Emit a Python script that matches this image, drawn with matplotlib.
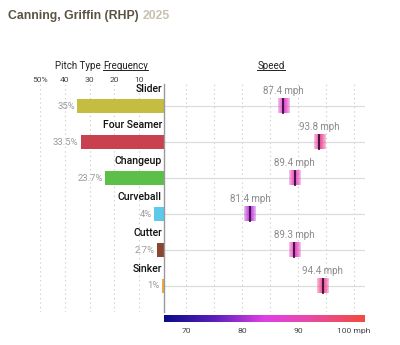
import numpy as np
import matplotlib
matplotlib.use("Agg")
import matplotlib.pyplot as plt
from matplotlib.colors import LinearSegmentedColormap, Normalize, to_rgb

W, H = 400, 345

pitches = ["Slider", "Four Seamer", "Changeup", "Curveball", "Cutter", "Sinker"]
freq = [35, 33.5, 23.7, 4, 2.7, 1]
freq_labels = ["35%", "33.5%", "23.7%", "4%", "2.7%", "1%"]
speed = [87.4, 93.8, 89.4, 81.4, 89.3, 94.4]
colors = ["#c5bd3f", "#c9404f", "#5cbf4a", "#5ccbea", "#8b4533", "#f0a840"]

freq_ticks = [50, 40, 30, 20, 10]
freq_ticklabels = ["50%", "40", "30", "20", "10"]
speed_ticks = [70, 80, 90, 100]
speed_ticklabels = ["70", "80", "90", "100 mph"]

cmap = LinearSegmentedColormap.from_list("spd", [
    (0, "#0c0c8a"), (0.25, "#5a1fba"), (0.5, "#e03fe6"),
    (0.72, "#e84aa8"), (1, "#f24a40")])
vmin, vmax = 66, 102
norm = Normalize(vmin, vmax)


def fx(px):
    return px / W


def fy(py):
    return 1 - py / H


def ax_rect(x0, y0, x1, y1):
    return [fx(x0), fy(y1), (x1 - x0) / W, (y1 - y0) / H]


fig = plt.figure(figsize=(4, 3.45), dpi=100)
fig.patch.set_facecolor("white")

top, bot = 84, 312
row0, step = 106, 36
ylim = ((bot - row0) / step, (top - row0) / step)
n = len(pitches)
rows = np.arange(n)

# left: frequency bars
axl = fig.add_axes(ax_rect(35, top, 164, bot))
axl.set_xlim(52, 0)
axl.set_ylim(*ylim)
for s in axl.spines.values():
    s.set_visible(False)
axl.set_xticks([])
axl.set_yticks([])
for t in freq_ticks:
    axl.axvline(t, color="#c8c8c8", lw=0.8, ls=(0, (1, 3)), zorder=0)
axl.barh(rows, freq, height=0.39, color=colors, zorder=2)
for i in rows:
    axl.text(0.9, i - 0.33, pitches[i], ha="right", va="bottom",
             fontsize=7.6, fontweight="medium", family="Roboto", color="#111111")
    axl.text(freq[i] + 1.0, i, freq_labels[i], ha="right", va="center",
             fontsize=6.8, family="Roboto", color="#9a9a9a")
for t, lab in zip(freq_ticks, freq_ticklabels):
    fig.text(fx(164 - t * 2.48), fy(80), lab, ha="center", va="center",
             fontsize=6.1, family="Roboto", color="#444444")

# right: speed markers
axr = fig.add_axes(ax_rect(164, top, 365, bot))
axr.set_facecolor("none")
for k, s in axr.spines.items():
    s.set_visible(k == "left")
axr.spines["left"].set_color("#999999")
axr.spines["left"].set_linewidth(1)
axr.set_xticks([])
axr.set_yticks([])
for t in range(70, 101, 5):
    axr.axvline(t, color="#c8c8c8", lw=0.8, ls=(0, (1, 3)), zorder=0)
for i in rows:
    axr.axhline(i, color="#dddddd", lw=0.9, zorder=1)

prof = np.linspace(-1, 1, 40)
alpha = 0.3 + 0.7 * (1 - np.abs(prof)) ** 0.8
for i in rows:
    r, g, b = to_rgb(cmap(norm(speed[i])))
    img = np.zeros((1, len(prof), 4))
    img[..., 0], img[..., 1], img[..., 2] = r, g, b
    img[..., 3] = alpha
    axr.imshow(img, extent=[speed[i] - 1.0, speed[i] + 1.0, i + 0.2, i - 0.2],
               aspect="auto", interpolation="bilinear", zorder=3)
    axr.plot([speed[i], speed[i]], [i - 0.2, i + 0.2], color="#3a0c3c", lw=1.3, zorder=4)
    axr.text(speed[i], i - 0.29, f"{speed[i]} mph", ha="center", va="bottom",
             fontsize=7, family="Roboto", color="#8a8a8a")
axr.set_xlim(vmin, vmax)
axr.set_ylim(*ylim)

# colour bar
axc = fig.add_axes(ax_rect(164, 315, 365, 322))
grad = np.linspace(vmin, vmax, 300).reshape(1, -1)
axc.imshow(grad, extent=[vmin, vmax, 0, 1], aspect="auto", cmap=cmap, norm=norm)
axc.set_xlim(vmin, vmax)
for s in axc.spines.values():
    s.set_visible(False)
axc.set_yticks([])
axc.set_xticks(speed_ticks)
axc.set_xticklabels(speed_ticklabels, fontsize=6.1, family="Roboto", color="#444444")
axc.tick_params(axis="x", length=0, pad=4)

# headers
t1 = fig.text(fx(103), fy(66), "Pitch Type ", ha="right", va="center",
              fontsize=7, family="Roboto", color="#222222")
t2 = fig.text(fx(103), fy(66), "Frequency", ha="left", va="center",
              fontsize=7, family="Roboto", color="#222222")
t3 = fig.text(fx(271), fy(66), "Speed", ha="center", va="center",
              fontsize=7, family="Roboto", color="#222222")
renderer = fig.canvas.get_renderer()
for t in (t2, t3):
    bb = t.get_window_extent(renderer)
    fig.add_artist(plt.Line2D([bb.x0 / W, bb.x1 / W], [fy(69.5)] * 2,
                              color="#222222", lw=0.7, transform=fig.transFigure))

# title
tt = fig.text(fx(8), fy(19), "Canning, Griffin (RHP)", ha="left", va="baseline",
              fontsize=8.8, fontweight="bold", family="Liberation Sans", color="#5a5243")
bb = tt.get_window_extent(renderer)
fig.text(bb.x1 / W + fx(4), fy(19), "2025", ha="left", va="baseline",
         fontsize=8.8, fontweight="bold", family="Liberation Sans", color="#c9c1b0")

fig.savefig("out.png", dpi=100, facecolor="white")
